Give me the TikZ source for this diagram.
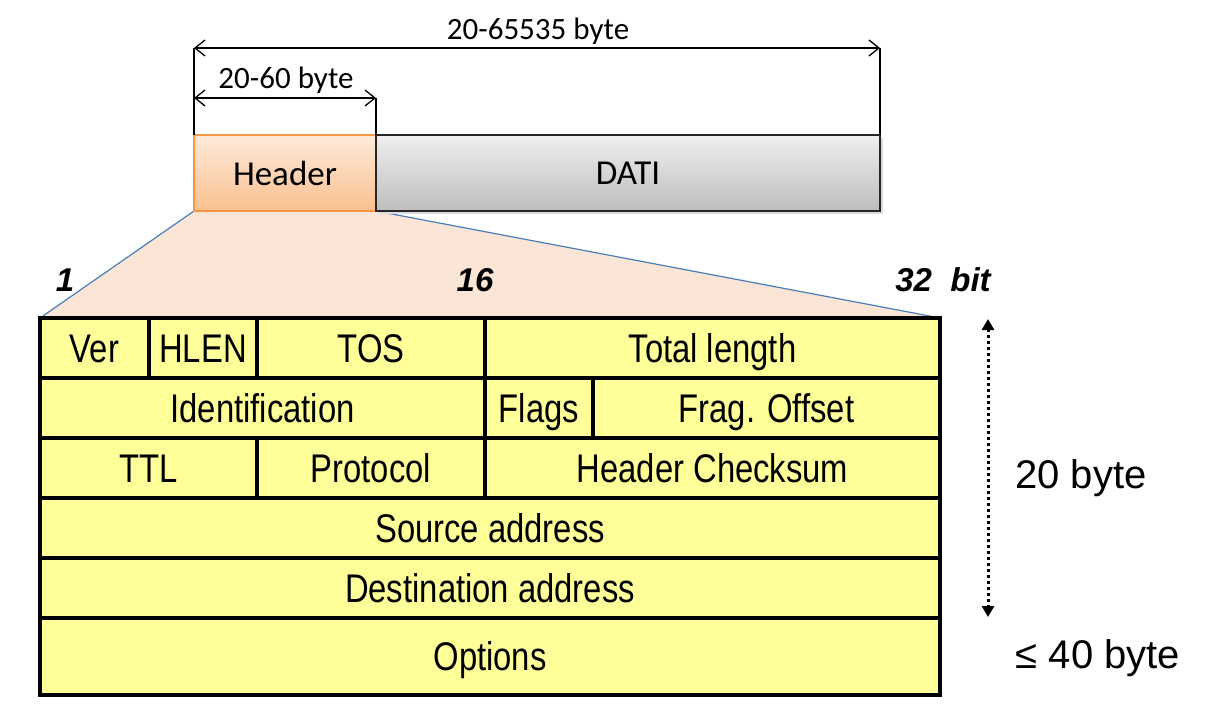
\documentclass[tikz,border=0pt]{standalone}
\usepackage{fontspec}
\setmainfont{Liberation Sans}
\newfontfamily\calfont{Carlito}
\newfontfamily\tabfont[FakeStretch=0.82]{Liberation Sans}
\usetikzlibrary{arrows.meta,backgrounds}
\definecolor{cellyellow}{HTML}{FFFF99}
\definecolor{peach}{HTML}{FBE5D6}
\definecolor{zoomblue}{HTML}{4A7EBB}
\definecolor{hdrtop}{HTML}{FDEADA}
\definecolor{hdrbot}{HTML}{FAC08F}
\definecolor{hdrline}{HTML}{F79646}
\definecolor{datitop}{HTML}{EFEFEF}
\definecolor{datibot}{HTML}{BDBDBD}

% one field of the IP header: name, x1, y1, x2, y2, text
\newcommand\fieldcell[6]{%
  \node[cell, minimum width={(#4-#2)*1pt}, minimum height={(#5-#3)*1pt}]
    (#1) at ({(#2+#4)/2},{(#3+#5)/2}) {#6};}

\begin{document}
\begin{tikzpicture}[x=1pt,y=-1pt,
  cell/.style={draw=black, line width=4pt, fill=cellyellow, inner sep=0pt,
    outer sep=0pt, text height=28.8pt, text depth=0pt,
    font=\tabfont\fontsize{40}{44}\selectfont},
  hdrbox/.style={draw=hdrline, line width=1.5pt, top color=hdrtop,
    bottom color=hdrbot, inner sep=0pt, outer sep=0pt,
    font=\calfont\fontsize{35}{38}\selectfont},
  databox/.style={draw=black!85, line width=2pt, top color=datitop,
    bottom color=datibot, inner sep=0pt, outer sep=0pt,
    font=\calfont\fontsize{35}{38}\selectfont},
  dimline/.style={draw=black, line width=1.3pt},
  dimarrow/.style={dimline, {Straight Barb[length=10pt,width=16pt]}-{Straight Barb[length=10pt,width=16pt]}},
  dimlabel/.style={font=\calfont\fontsize{31}{34}\selectfont, inner sep=0pt},
  bitlabel/.style={font=\bfseries\itshape\fontsize{33}{36}\selectfont, inner sep=0pt},
  sizelabel/.style={font=\fontsize{40}{44}\selectfont, inner sep=0pt},
  spanarrow/.style={line width=3pt, dash pattern=on 3pt off 3pt,
    {Stealth[length=11pt,width=12pt,inset=0pt]}-{Stealth[length=11pt,width=12pt,inset=0pt]}}
]
\useasboundingbox (0,0) rectangle (1209,718);

% IP packet: header and payload, with a soft shadow under the payload
\fill[black!14] (379,138) rectangle (883,214);
\node[hdrbox, minimum width=182pt, minimum height=76pt] (hdr) at (285,173) {Header};
\node[databox, minimum width=504pt, minimum height=76pt] (dati) at (628,173) {DATI};

% header fields
\fieldcell{ver}{40}{318}{149}{378}{Ver}
\fieldcell{hlen}{149}{318}{257}{378}{HLEN}
\fieldcell{tos}{257}{318}{485}{378}{TOS}
\fieldcell{tlen}{485}{318}{940}{378}{Total length}
\fieldcell{ident}{40}{378}{485}{438}{Identification}
\fieldcell{flags}{485}{378}{593}{438}{Flags}
\fieldcell{frag}{593}{378}{940}{438}{Frag. Offset}
\fieldcell{ttl}{40}{438}{257}{498}{TTL}
\fieldcell{proto}{257}{438}{485}{498}{Protocol}
\fieldcell{chk}{485}{438}{940}{498}{Header Checksum}
\fieldcell{src}{40}{498}{940}{558}{Source address}
\fieldcell{dst}{40}{558}{940}{618}{Destination address}
\fieldcell{opts}{40}{618}{940}{695}{Options}

% zoom-out funnel from the header box to the field table
\begin{scope}[on background layer]
  \fill[peach] (hdr.south west) -- (hdr.south east) -- (tlen.north east)
    -- (ver.north west) -- cycle;
  \draw[zoomblue, line width=1.2pt] (hdr.south west) -- (ver.north west);
  \draw[zoomblue, line width=1.2pt] (hdr.south east) -- (tlen.north east);
\end{scope}

% size dimensions above the packet
\coordinate (tl) at (194,48);
\coordinate (tr) at (880,48);
\coordinate (hl) at (194,98);
\coordinate (hr) at (376,98);
\draw[dimline] (hdr.north west) -- (tl);
\draw[dimline] (dati.north east) -- (tr);
\draw[dimline] (hdr.north east) -- (hr);
\draw[dimarrow] (tl) -- (tr);
\draw[dimarrow] (hl) -- (hr);
\node[dimlabel] (totlbl) at (538,31) {20-65535 byte};
\node[dimlabel] (hdrlbl) at (286,80) {20-60 byte};

% bit positions
\node[bitlabel] (b1) at (65,280) {1};
\node[bitlabel] (b16) at (475,280) {16};
\node[bitlabel] (b32) at (943,280) {32\ \ bit};

% fixed part and options sizes
\coordinate (vtop) at (988,319);
\coordinate (vbot) at (988,617);
\draw[spanarrow] (vtop) -- (vbot);
\node[sizelabel] (fixlbl) at (1081,478) {20 byte};
\node[sizelabel] (optlbl) at (1098,658) {≤ 40 byte};
\end{tikzpicture}
\end{document}
